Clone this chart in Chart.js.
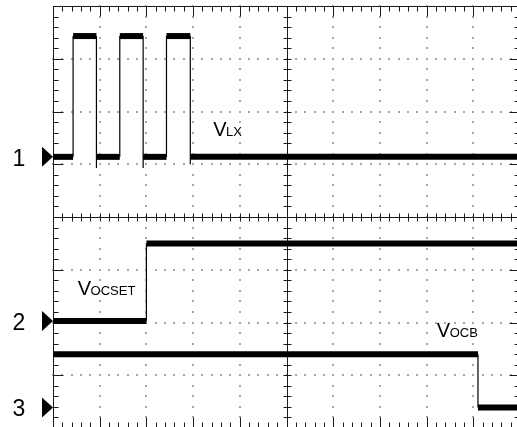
<!DOCTYPE html>
<html>
<head>
<meta charset="utf-8">
<script src="https://cdn.jsdelivr.net/npm/chart.js@4/dist/chart.umd.min.js"></script>
<style>
    html, body { margin: 0; padding: 0; background: #fff; overflow: hidden; }
    #wrap { position: absolute; left: 0; top: 0; width: 520px; height: 428px; }
</style>
</head>
<body>
<div id="wrap"><canvas id="scope" width="520" height="428"></canvas></div>
<script>
// time in divisions (10 across), level in divisions (8 up from bottom)
const ch1Time  = [0, 0.43, 0.43, 0.93, 0.93, 0.93, 1.43, 1.43, 1.93, 1.93, 1.93, 2.43, 2.43, 2.94, 2.94, 2.94, 10];
const ch1Level = [5.14, 5.14, 7.43, 7.43, 4.93, 5.14, 5.14, 7.43, 7.43, 4.93, 5.14, 5.14, 7.43, 7.43, 5.0, 5.14, 5.14];
const ch2Time  = [0, 2.0, 2.0, 10];
const ch2Level = [2.03, 2.03, 3.50, 3.50];
const ch3Time  = [0, 9.1, 9.1, 10];
const ch3Level = [1.40, 1.40, 0.39, 0.39];

// channel markers on the left edge
const channelNames  = ['1', '2', '3'];
const channelGround = [5.14, 2.03, 0.39];

// trace names: main letter, subscript, anchor (time, level)
const traceMain = ['V', 'V', 'V'];
const traceSub  = ['LX', 'OCSET', 'OCB'];
const traceAt   = [[3.43, 5.54], [0.53, 2.52], [8.22, 1.72]];

function points(t, v) {
    return t.map(function(x, i) { return {x: x, y: v[i]}; });
}

// thick band for flat parts, thin line for edges
function trace(t, v) {
    return {
        data: points(t, v),
        borderColor: '#000',
        borderWidth: 6,
        borderCapStyle: 'butt',
        borderJoinStyle: 'miter',
        pointRadius: 0,
        tension: 0,
        segment: {
            borderWidth: function(c) { return c.p0.parsed.y === c.p1.parsed.y ? 6 : 1.2; }
        }
    };
}

const font = '"Liberation Sans", Arial, sans-serif';

const scopeGrid = {
    id: 'scopeGrid',
    beforeDatasetsDraw(chart) {
        const ctx = chart.ctx, a = chart.chartArea;
        const x = chart.scales.x, y = chart.scales.y;
        ctx.save();
        // dotted graticule
        ctx.fillStyle = '#aaa898';
        for (let i = 1; i < 10; i++) {
            if (i === 5) continue;
            const px = Math.round(x.getPixelForValue(i));
            for (let j = 0; j <= 40; j++) {
                ctx.fillRect(px - 1, Math.round(y.getPixelForValue(j / 5)) - 1, 2, 2);
            }
        }
        for (let j = 1; j < 8; j++) {
            if (j === 4) continue;
            const py = Math.round(y.getPixelForValue(j));
            for (let i = 0; i <= 50; i++) {
                ctx.fillRect(Math.round(x.getPixelForValue(i / 5)) - 1, py - 1, 2, 2);
            }
        }

        ctx.strokeStyle = '#1a1a1a';
        ctx.lineWidth = 1;
        const cx = Math.round(x.getPixelForValue(5)) + 0.5;
        const cy = Math.round(y.getPixelForValue(4)) + 0.5;
        const L = Math.round(a.left) + 0.5, R = Math.round(a.right) - 0.5;
        const T = Math.round(a.top) + 0.5, B = Math.round(a.bottom) - 0.5;
        ctx.beginPath();
        // centre cross
        ctx.moveTo(cx, a.top); ctx.lineTo(cx, a.bottom);
        ctx.moveTo(a.left, cy); ctx.lineTo(a.right, cy);
        // border
        ctx.rect(L, T, R - L, B - T);
        // ticks along x
        for (let i = 0; i <= 50; i++) {
            const px = Math.round(x.getPixelForValue(i / 5)) + 0.5;
            const len = i % 5 === 0 ? 10 : 5;
            ctx.moveTo(px, T); ctx.lineTo(px, T + len);
            ctx.moveTo(px, B); ctx.lineTo(px, B - len);
            ctx.moveTo(px, cy - 4); ctx.lineTo(px, cy + 4);
        }
        // ticks along y
        for (let j = 0; j <= 40; j++) {
            const py = Math.round(y.getPixelForValue(j / 5)) + 0.5;
            const len = j % 5 === 0 ? 10 : 5;
            ctx.moveTo(L, py); ctx.lineTo(L + len, py);
            ctx.moveTo(R, py); ctx.lineTo(R - len, py);
            ctx.moveTo(cx - 4, py); ctx.lineTo(cx + 4, py);
        }
        ctx.stroke();
        ctx.restore();
    },
    afterDatasetsDraw(chart) {
        const ctx = chart.ctx, a = chart.chartArea;
        const x = chart.scales.x, y = chart.scales.y;
        ctx.save();
        ctx.fillStyle = '#000';
        ctx.textBaseline = 'alphabetic';
        ctx.textAlign = 'left';
        traceMain.forEach(function(m, i) {
            const px = x.getPixelForValue(traceAt[i][0]);
            const py = y.getPixelForValue(traceAt[i][1]);
            ctx.font = '20px ' + font;
            ctx.fillText(m, px, py);
            const w = ctx.measureText(m).width;
            ctx.font = '13px ' + font;
            ctx.fillText(traceSub[i], px + w - 0.5, py);
        });

        // channel markers
        ctx.font = '23px ' + font;
        ctx.textAlign = 'center';
        channelNames.forEach(function(n, i) {
            const py = y.getPixelForValue(channelGround[i]);
            ctx.beginPath();
            ctx.moveTo(a.left, py);
            ctx.lineTo(a.left - 11, py - 10);
            ctx.lineTo(a.left - 11, py + 10);
            ctx.closePath();
            ctx.fill();
            ctx.fillText(n, a.left - 34, py + 9);
        });
        ctx.restore();
    }
};

new Chart(document.getElementById('scope'), {
    type: 'line',
    data: {
        datasets: [trace(ch1Time, ch1Level), trace(ch2Time, ch2Level), trace(ch3Time, ch3Level)]
    },
    options: {
        responsive: false,
        animation: false,
        devicePixelRatio: 1,
        layout: { padding: { left: 53, top: 6, right: 0, bottom: 0 } },
        plugins: { legend: { display: false }, tooltip: { enabled: false } },
        scales: {
            x: { type: 'linear', min: 0, max: 10, display: false },
            y: { type: 'linear', min: 0, max: 8, display: false }
        }
    },
    plugins: [scopeGrid]
});
</script>
</body>
</html>
